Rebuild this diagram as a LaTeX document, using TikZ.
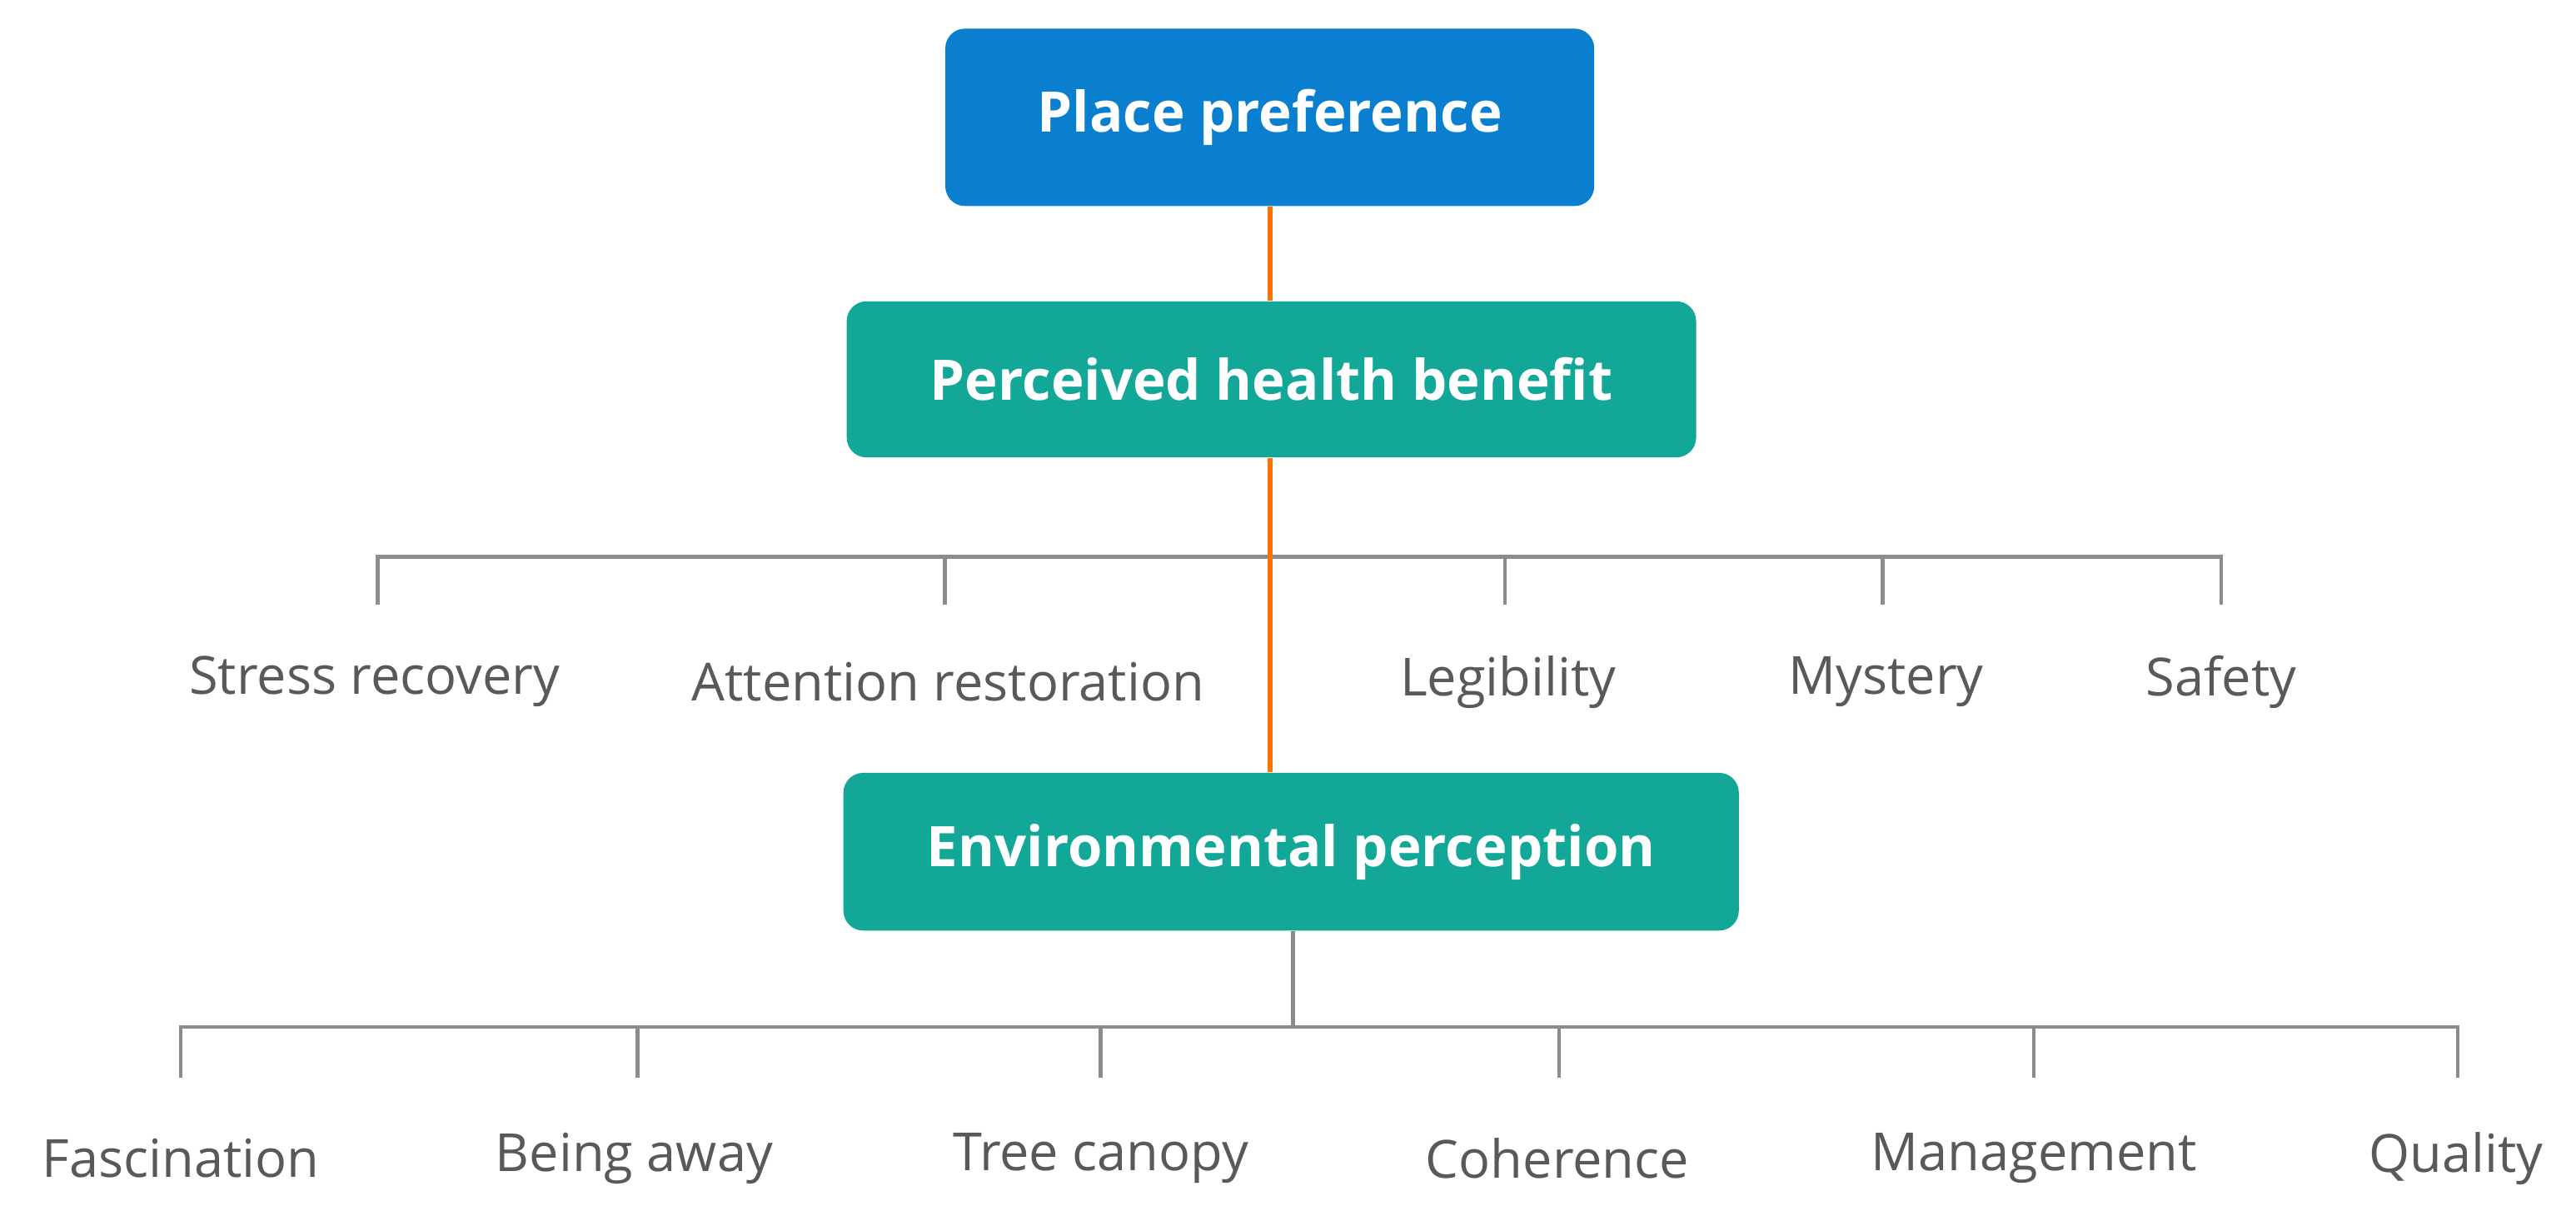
\documentclass[tikz,border=0pt]{standalone}
\usepackage{fontspec}
\setmainfont{Open Sans}
\begin{document}
\begin{tikzpicture}[x=0.5pt,y=-0.5pt,
  box/.style={rounded corners=6pt,text=white,font=\fontsize{17}{20}\selectfont\bfseries,inner sep=0pt,anchor=north west},
  lab/.style={text=black!65,font=\fontsize{16}{19}\selectfont},
  gl/.style={draw=black!45,line width=1.2pt},
  ol/.style={draw=orange!90!red,line width=1.5pt}]
\useasboundingbox (0,0) rectangle (1568,740);
\definecolor{bl}{HTML}{0A7FD0}
\definecolor{tl}{HTML}{12A797}
\node[box,fill=bl,minimum width=197.5pt,minimum height=54pt] (pp) at (575,17) {};
\node[text=white,font=\fontsize{17}{20}\selectfont\bfseries] at (pp.center) {Place preference};
\node[box,fill=tl,minimum width=258.5pt,minimum height=47.5pt] (ph) at (515,183) {};
\node[text=white,font=\fontsize{17}{20}\selectfont\bfseries] at (ph.center) {Perceived health benefit};
\node[box,fill=tl,minimum width=272.5pt,minimum height=48pt] (ep) at (513,470) {};
\node[text=white,font=\fontsize{17}{20}\selectfont\bfseries] at (ep.center) {Environmental perception};
% upper bar
\coordinate (b1) at (230,339); \coordinate (b2) at (1352,339);
\draw[gl] (230,368) -- (b1) -- (b2) -- (1352,368);
\foreach \x in {575,916,1146} \draw[gl] (\x,339) -- (\x,368);
\foreach \x/\t in {228/Stress recovery,577/Attention restoration,918/Legibility,1148/Mystery,1352/Safety}
  \node[lab] at (\x,415) {\t};
\draw[ol] (pp.south -| 773,0) -- (ph.north -| 773,0);
\draw[ol] (ph.south -| 773,0) -- (ep.north -| 773,0);
% lower bar
\coordinate (c0) at (787,625);
\draw[gl] (ep.south -| c0) -- (c0);
\draw[gl] (110,656) -- (110,625) -- (1496,625) -- (1496,656);
\foreach \x in {388,670,949,1238} \draw[gl] (\x,625) -- (\x,656);
\foreach \x/\t in {110/Fascination,386/Being away,670/Tree canopy,948/Coherence,1238/Management,1495/Quality}
  \node[lab] at (\x,705) {\t};
\end{tikzpicture}
\end{document}
